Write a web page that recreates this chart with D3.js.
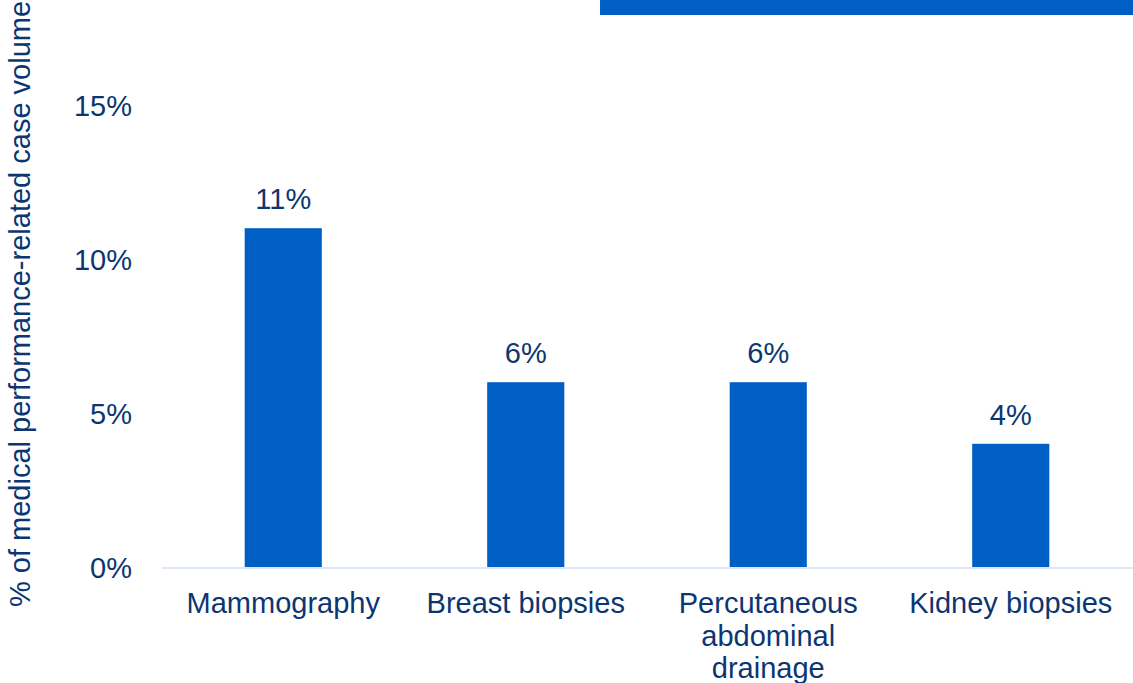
<!DOCTYPE html>
<html>
<head>
<meta charset="utf-8">
<script src="https://cdn.jsdelivr.net/npm/d3@7/dist/d3.min.js"></script>
<style>
  html, body { margin: 0; padding: 0; background: #fff; }
  svg { display: block; font-family: "Liberation Sans", Arial, sans-serif; }
</style>
</head>
<body>
<svg id="chart" width="1133" height="683"></svg>
<script>
// Share of medical performance-related case volume by procedure
const categories = ["Mammography", "Breast biopsies", "Percutaneous abdominal drainage", "Kidney biopsies"];
const values = [11, 6, 6, 4];
const yTicks = [0, 5, 10, 15];
const yTitle = "% of medical performance-related case volume";

const W = 1133, H = 683;
const textColor = "#0b3672";
const barColor = "#005fc5";
const fontSize = 29;

const svg = d3.select("#chart");

// Header band at the top right
svg.append("rect")
  .attr("x", 600).attr("y", 0)
  .attr("width", W - 600).attr("height", 15)
  .attr("fill", barColor);

const plotLeft = 162, plotRight = 1132;
const y0 = 567;

const x = d3.scaleBand()
  .domain(categories)
  .range([plotLeft, plotRight])
  .paddingInner(0.682)
  .paddingOuter(0.341);

const y = d3.scaleLinear()
  .domain([0, 5])
  .range([y0, y0 - 154]);

// Y axis tick labels (no line, no tick marks)
const yAxis = d3.axisLeft(y)
  .tickValues(yTicks)
  .tickSize(0)
  .tickPadding(0)
  .tickFormat(d => d + "%");

const yG = svg.append("g")
  .attr("transform", `translate(132,0)`)
  .call(yAxis);
yG.select(".domain").remove();
yG.selectAll("text")
  .attr("fill", textColor)
  .attr("font-size", fontSize)
  .attr("font-family", "Liberation Sans, Arial, sans-serif")
  .attr("dy", "0.35em");

// Y axis title
svg.append("text")
  .attr("transform", `translate(30,607) rotate(-90)`)
  .attr("text-anchor", "start")
  .attr("fill", textColor)
  .attr("font-size", fontSize)
  .text(yTitle);

// Bars
svg.append("g").selectAll("rect")
  .data(categories)
  .join("rect")
  .attr("x", d => x(d))
  .attr("width", x.bandwidth())
  .attr("y", (d, i) => y(values[i]))
  .attr("height", (d, i) => y(0) - y(values[i]))
  .attr("fill", barColor);

// Baseline
svg.append("line")
  .attr("x1", plotLeft).attr("x2", W)
  .attr("y1", y0 + 1).attr("y2", y0 + 1)
  .attr("stroke", "#dce8f4")
  .attr("stroke-width", 2);

// Value labels
svg.append("g").selectAll("text")
  .data(categories)
  .join("text")
  .attr("x", d => x(d) + x.bandwidth() / 2)
  .attr("y", (d, i) => y(values[i]) - 19)
  .attr("text-anchor", "middle")
  .attr("fill", textColor)
  .attr("font-size", fontSize)
  .text((d, i) => values[i] + "%");

// Category labels, wrapped to the band step
const xAxis = d3.axisBottom(x).tickSize(0).tickPadding(0);
const xG = svg.append("g")
  .attr("transform", `translate(0,${y0})`)
  .call(xAxis);
xG.select(".domain").remove();
xG.selectAll("text")
  .attr("fill", textColor)
  .attr("font-size", fontSize)
  .attr("font-family", "Liberation Sans, Arial, sans-serif")
  .attr("dy", null)
  .attr("y", 46)
  .call(wrap, x.step() - 12);

function wrap(sel, width) {
  sel.each(function () {
    const t = d3.select(this);
    const words = t.text().split(/\s+/);
    t.text(null);
    let line = [];
    let lineNo = 0;
    let tspan = t.append("tspan").attr("x", 0).attr("y", 46);
    for (const w of words) {
      line.push(w);
      tspan.text(line.join(" "));
      if (tspan.node().getComputedTextLength() > width && line.length > 1) {
        line.pop();
        tspan.text(line.join(" "));
        line = [w];
        lineNo++;
        tspan = t.append("tspan").attr("x", 0).attr("y", 46 + lineNo * 32.5).text(w);
      }
    }
  });
}
</script>
</body>
</html>
